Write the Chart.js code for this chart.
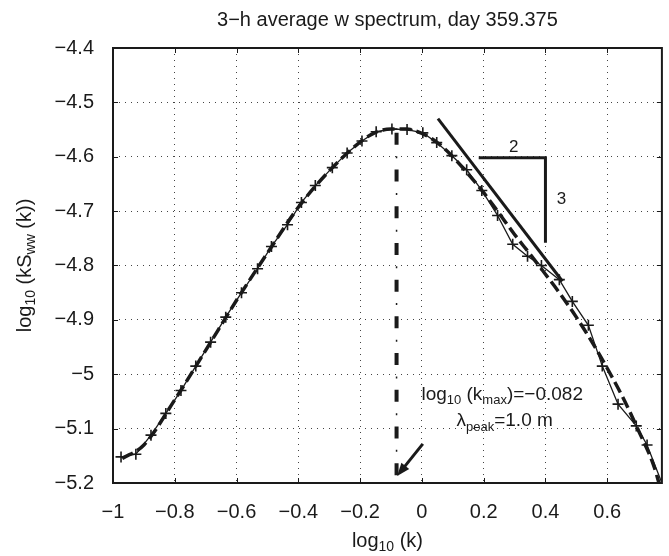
<!DOCTYPE html>
<html>
<head>
<meta charset="utf-8">
<script src="https://cdn.jsdelivr.net/npm/chart.js@4.4.1/dist/chart.umd.min.js"></script>
<style>
  body { margin: 0; background: #fff; }
  #wrap { width: 669px; height: 556px; }
</style>
</head>
<body>
<div id="wrap"><canvas id="chart" width="669" height="556"></canvas></div>
<script>
// measured spectrum, log10(k) vs log10(k Sww)
const specX = [-0.974, -0.926, -0.877, -0.829, -0.780, -0.732, -0.684, -0.635, -0.584, -0.532,
               -0.487, -0.435, -0.390, -0.345, -0.290, -0.242, -0.194, -0.148, -0.097, -0.048,
               0.003, 0.048, 0.097, 0.145, 0.194, 0.245, 0.294, 0.342, 0.387, 0.445,
               0.487, 0.539, 0.584, 0.635, 0.694, 0.729, 0.777];
const specY = [-5.152, -5.147, -5.112, -5.072, -5.030, -4.985, -4.941, -4.895, -4.850, -4.806,
               -4.765, -4.725, -4.684, -4.653, -4.620, -4.593, -4.571, -4.554, -4.549, -4.550,
               -4.556, -4.574, -4.598, -4.624, -4.662, -4.708, -4.761, -4.783, -4.800, -4.826,
               -4.866, -4.910, -4.985, -5.055, -5.095, -5.130, -5.200];

// smooth fitted spectrum (thick dashed)
const fitX = [-0.97, -0.90, -0.80, -0.70, -0.60, -0.50, -0.40, -0.30, -0.20, -0.15, -0.10, -0.05,
              0.00, 0.05, 0.10, 0.15, 0.20, 0.25, 0.30, 0.35, 0.40, 0.45, 0.50, 0.55, 0.60,
              0.65, 0.70, 0.75, 0.77];
const fitY = [-5.155, -5.130, -5.047, -4.956, -4.864, -4.777, -4.693, -4.626, -4.573, -4.555, -4.549, -4.549,
              -4.557, -4.574, -4.600, -4.632, -4.666, -4.704, -4.743, -4.779, -4.816, -4.854, -4.895, -4.940, -4.989,
              -5.042, -5.102, -5.167, -5.205];

// peak marker, slope guide and triangle
const peakX = [-0.082, -0.082];
const peakY = [-4.556, -5.19];
const slopeX = [0.052, 0.455];
const slopeY = [-4.530, -4.829];
const triX = [0.184, 0.400, 0.400];
const triY = [-4.602, -4.602, -4.758];

const xTicks = [-1, -0.8, -0.6, -0.4, -0.2, 0, 0.2, 0.4, 0.6];
const yTicks = [-4.4, -4.5, -4.6, -4.7, -4.8, -4.9, -5, -5.1, -5.2];

const FONT = '"Liberation Sans", Arial, Helvetica, sans-serif';
const INK = '#1a1a1a';

function pts(xs, ys) {
    return xs.map((x, i) => ({x: x, y: ys[i]}));
}

function fmt(v) {
    let r = Math.round(v * 10) / 10;
    return (r < 0 ? '\u2212' : '') + String(Math.abs(r));
}

// text with subscripts: parts = [[text, isSub], ...]
function drawRich(ctx, parts, x, y, size, align) {
    let sub = Math.round(size * 0.7);
    let w = 0;
    parts.forEach(p => {
        ctx.font = (p[1] ? sub : size) + 'px ' + FONT;
        w += ctx.measureText(p[0]).width;
    });
    let cx = align === 'center' ? x - w / 2 : x;
    ctx.textAlign = 'left';
    ctx.textBaseline = 'middle';
    ctx.fillStyle = INK;
    parts.forEach(p => {
        ctx.font = (p[1] ? sub : size) + 'px ' + FONT;
        ctx.fillText(p[0], cx, p[1] ? y + size * 0.32 : y);
        cx += ctx.measureText(p[0]).width;
    });
}

const decor = {
    id: 'decor',
    afterDatasetsDraw(chart) {
        let ctx = chart.ctx;
        let a = chart.chartArea;
        let sx = chart.scales.x;
        let sy = chart.scales.y;
        ctx.save();

        // box + inward ticks
        ctx.strokeStyle = INK;
        ctx.lineWidth = 2;
        ctx.strokeRect(a.left, a.top, a.right - a.left, a.bottom - a.top);
        ctx.lineWidth = 1;
        ctx.beginPath();
        xTicks.forEach(v => {
            let px = Math.round(sx.getPixelForValue(v)) + 0.5;
            ctx.moveTo(px, a.bottom); ctx.lineTo(px, a.bottom - 5);
            ctx.moveTo(px, a.top); ctx.lineTo(px, a.top + 5);
        });
        yTicks.forEach(v => {
            let py = Math.round(sy.getPixelForValue(v)) + 0.5;
            ctx.moveTo(a.left, py); ctx.lineTo(a.left + 5, py);
            ctx.moveTo(a.right, py); ctx.lineTo(a.right - 5, py);
        });
        ctx.stroke();

        // arrow to the peak wavenumber
        let x0 = sx.getPixelForValue(0.003), y0 = sy.getPixelForValue(-5.128);
        let x1 = sx.getPixelForValue(-0.080), y1 = sy.getPixelForValue(-5.187);
        let ang = Math.atan2(y1 - y0, x1 - x0);
        ctx.lineWidth = 3;
        ctx.beginPath();
        ctx.moveTo(x0, y0);
        ctx.lineTo(x1 - 8 * Math.cos(ang), y1 - 8 * Math.sin(ang));
        ctx.stroke();
        ctx.fillStyle = INK;
        ctx.beginPath();
        ctx.moveTo(x1, y1);
        ctx.lineTo(x1 - 13 * Math.cos(ang) + 5 * Math.sin(ang), y1 - 13 * Math.sin(ang) - 5 * Math.cos(ang));
        ctx.lineTo(x1 - 13 * Math.cos(ang) - 5 * Math.sin(ang), y1 - 13 * Math.sin(ang) + 5 * Math.cos(ang));
        ctx.closePath();
        ctx.fill();

        // annotations
        drawRich(ctx, [['log', 0], ['10', 1], [' (k', 0], ['max', 1], [')=\u22120.082', 0]],
            sx.getPixelForValue(0.26), sy.getPixelForValue(-5.037), 19, 'center');
        drawRich(ctx, [['\u03bb', 0], ['peak', 1], ['=1.0 m', 0]],
            sx.getPixelForValue(0.268), sy.getPixelForValue(-5.086), 19, 'center');
        drawRich(ctx, [['2', 0]], sx.getPixelForValue(0.297), sy.getPixelForValue(-4.582), 17, 'center');
        drawRich(ctx, [['3', 0]], sx.getPixelForValue(0.452), sy.getPixelForValue(-4.679), 17, 'center');

        // axis titles
        drawRich(ctx, [['log', 0], ['10', 1], [' (k)', 0]], (a.left + a.right) / 2, a.bottom + 58, 20, 'center');
        ctx.translate(25, (a.top + a.bottom) / 2);
        ctx.rotate(-Math.PI / 2);
        drawRich(ctx, [['log', 0], ['10', 1], [' (kS', 0], ['ww', 1], [' (k))', 0]], 0, 0, 20, 'center');
        ctx.restore();
    }
};

new Chart(document.getElementById('chart'), {
    type: 'line',
    data: {
        datasets: [
            {
                data: pts(specX, specY),
                order: 0,
                borderColor: INK,
                borderWidth: 1.3,
                pointStyle: 'cross',
                pointRadius: specX.map((x, i) => i === specX.length - 1 ? 0 : 5.5),
                pointBorderColor: INK,
                pointBorderWidth: 1.6,
                tension: 0
            },
            {
                data: pts(fitX, fitY),
                order: 1,
                borderColor: INK,
                borderWidth: 3.5,
                borderDash: [12, 5],
                pointRadius: 0,
                cubicInterpolationMode: 'monotone'
            },
            {
                data: pts(peakX, peakY),
                order: 2,
                borderColor: INK,
                borderWidth: 4,
                borderDash: [12, 24.7],
                pointRadius: 0
            },
            {
                data: pts(peakX, peakY),
                order: 2,
                borderColor: INK,
                borderWidth: 1.5,
                borderDash: [2, 34.7],
                borderDashOffset: 13.3,
                pointRadius: 0
            },
            {
                data: pts(slopeX, slopeY),
                order: 2,
                borderColor: INK,
                borderWidth: 3,
                pointRadius: 0
            },
            {
                data: pts(triX, triY),
                order: 2,
                borderColor: INK,
                borderWidth: 3,
                pointRadius: 0
            }
        ]
    },
    options: {
        responsive: false,
        animation: false,
        layout: {padding: {left: 0, right: 6, top: 0, bottom: 0}},
        plugins: {
            legend: {display: false},
            tooltip: {enabled: false},
            title: {
                display: true,
                text: '3\u2212h average w spectrum, day 359.375',
                color: INK,
                fullSize: false,
                font: {size: 20, weight: 'normal', family: FONT},
                padding: {top: 8, bottom: 16}
            }
        },
        scales: {
            x: {
                type: 'linear',
                min: -1,
                max: 0.777,
                afterFit: s => { s.height = 73; },
                ticks: {
                    stepSize: 0.2,
                    includeBounds: false,
                    padding: 17,
                    color: INK,
                    font: {size: 20, family: FONT},
                    callback: fmt,
                    maxRotation: 0
                },
                grid: {color: '#444', lineWidth: 1, drawTicks: false},
                border: {display: false, dash: [1, 5]}
            },
            y: {
                type: 'linear',
                min: -5.2,
                max: -4.4,
                afterFit: s => { s.width = 113; },
                ticks: {
                    stepSize: 0.1,
                    includeBounds: false,
                    padding: 19,
                    color: INK,
                    font: {size: 20, family: FONT},
                    callback: fmt
                },
                grid: {color: '#444', lineWidth: 1, drawTicks: false},
                border: {display: false, dash: [1, 5]}
            }
        }
    },
    plugins: [decor]
});
</script>
</body>
</html>
